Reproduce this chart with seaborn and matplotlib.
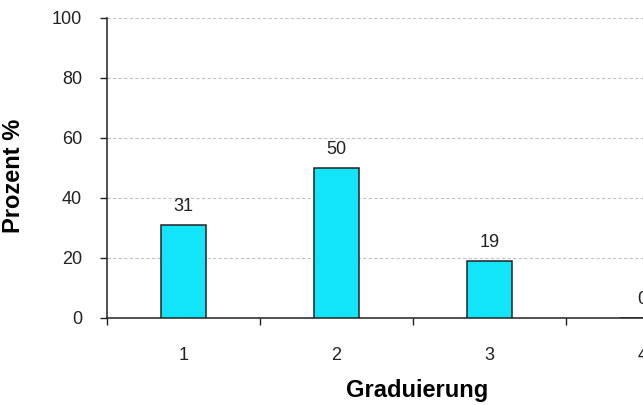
import matplotlib
matplotlib.use("Agg")
import matplotlib.pyplot as plt
import seaborn as sns
import numpy as np

# Data
categories = ["1", "2", "3", "4"]
values = [31, 50, 19, 0]
y_ticks = [0, 20, 40, 60, 80, 100]

sns.set_theme(style="white")
plt.rcParams["font.family"] = ["Liberation Sans", "DejaVu Sans"]

fig = plt.figure(figsize=(6.43, 4.05), dpi=100)
# plot area runs past the right edge of the figure
ax = fig.add_axes([107 / 643, 1 - 318 / 405, 612 / 643, 300 / 405])

sns.barplot(x=categories, y=values, ax=ax, width=0.29, color="#12E5FA",
            saturation=1, edgecolor="#222222", linewidth=1.1, zorder=3)

ax.set_xlim(-0.5, len(categories) - 0.5)
ax.set_ylim(0, 100)
ax.set_yticks(y_ticks)
ax.set_yticklabels([str(t) for t in y_ticks])

# category labels centred, tick marks between categories
ax.set_xticks(range(len(categories)))
ax.set_xticklabels(categories)
ax.set_xticks(np.arange(-0.5, len(categories), 1.0), minor=True)
ax.tick_params(axis="x", which="major", length=0, pad=21, labelsize=13,
               labelcolor="#222222")
ax.tick_params(axis="x", which="minor", length=5, width=1, color="#222222",
               direction="out", bottom=True)
ax.tick_params(axis="y", which="major", length=5, width=1, color="#222222",
               direction="out", left=True, pad=13, labelsize=13,
               labelcolor="#222222")

ax.yaxis.grid(True, linestyle=(0, (3, 2)), color="#C4C4C4", linewidth=0.8,
              zorder=0)
ax.xaxis.grid(False)
ax.set_axisbelow(True)

for side in ["top", "right"]:
    ax.spines[side].set_visible(False)
for side in ["left", "bottom"]:
    ax.spines[side].set_color("#222222")
    ax.spines[side].set_linewidth(1.1)

# value labels above bars
for i, v in enumerate(values):
    ax.annotate(str(v), xy=(i, v), xytext=(0, 7), textcoords="offset points",
                ha="center", va="bottom", fontsize=13, color="#222222")

ax.set_ylabel("Prozent %", fontsize=17, fontweight="bold", color="black")
ax.set_xlabel("Graduierung", fontsize=17, fontweight="bold", color="black")
ax.yaxis.set_label_coords(-0.134, 0.475)
ax.xaxis.set_label_coords(0.506, -0.203)

fig.savefig("out.png", dpi=100)
